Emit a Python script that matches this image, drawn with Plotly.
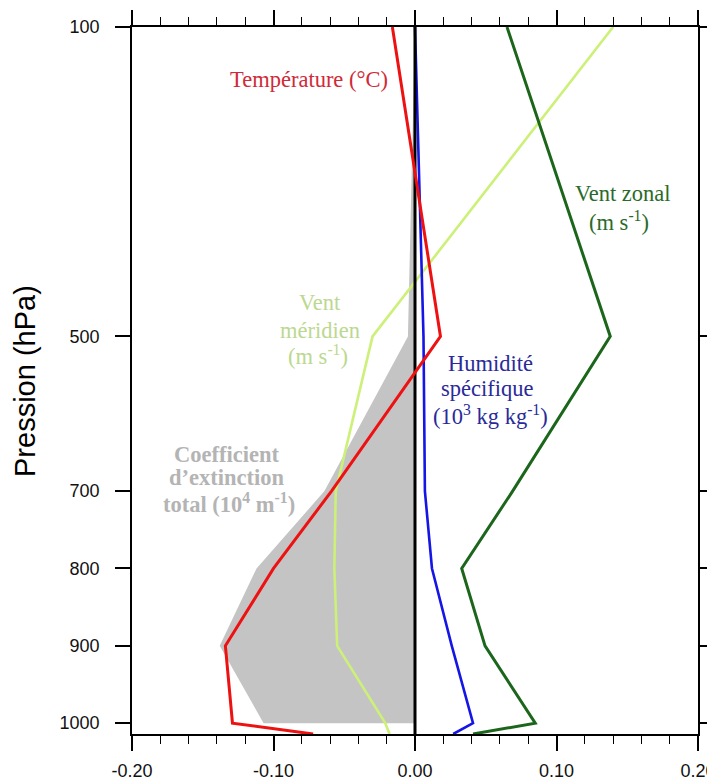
import plotly.graph_objects as go

# ---------------- data ----------------
levels = [100, 500, 700, 800, 900, 1000, 1014]          # hPa (1014 = surface)
temperature = [-0.016, 0.018, -0.059, -0.100, -0.134, -0.129, -0.072]
vent_zonal = [0.065, 0.138, 0.069, 0.033, 0.0495, 0.085, 0.041]
vent_meridien = [0.140, -0.030, -0.056, -0.057, -0.055, -0.021, -0.018]
humidite = [0.000, 0.006, 0.007, 0.012, 0.026, 0.041, 0.027]

ext_levels = [100, 500, 700, 800, 900, 1000]
extinction = [0.0, -0.005, -0.064, -0.112, -0.138, -0.107]

x_ticks = [-0.2, -0.1, 0.0, 0.1, 0.2]
x_ticklabels = ["-0.20", "-0.10", "0.00", "0.10", "0.20"]
y_ticks = [100, 500, 700, 800, 900, 1000]
y_ticklabels = ["100", "500", "700", "800", "900", "1000"]

X_RANGE = [-0.2, 0.2]
Y_TOP, Y_BOTTOM = 100, 1014

# page body has an 8px margin -> figure drawn at (8, 8)
W, H = 707, 774
L, T, R, B = 124, 19, 17, 48
PW, PH = W - L - R, H - T - B

# ---------------- figure ----------------
fig = go.Figure()

# extinction coefficient (grey area between 0 and the profile)
fig.add_trace(go.Scatter(x=[0.0] * len(ext_levels), y=ext_levels, mode="lines",
                         line=dict(width=0, color="#c4c4c4"), hoverinfo="skip",
                         showlegend=False))
fig.add_trace(go.Scatter(x=extinction, y=ext_levels, mode="lines", fill="tonextx",
                         fillcolor="#c4c4c4", line=dict(width=0, color="#c4c4c4"),
                         showlegend=False))

fig.add_trace(go.Scatter(x=vent_meridien, y=levels, mode="lines",
                         line=dict(color="#ccf078", width=2.6), showlegend=False))
fig.add_trace(go.Scatter(x=vent_zonal, y=levels, mode="lines",
                         line=dict(color="#1c661c", width=3), showlegend=False))
fig.add_trace(go.Scatter(x=humidite, y=levels, mode="lines",
                         line=dict(color="#1515e6", width=2.6), showlegend=False))
# zero line
fig.add_trace(go.Scatter(x=[0.0, 0.0], y=[Y_TOP, Y_BOTTOM], mode="lines",
                         line=dict(color="black", width=3), showlegend=False))
fig.add_trace(go.Scatter(x=temperature, y=levels, mode="lines",
                         line=dict(color="#ee1111", width=3), showlegend=False))

serif = "Liberation Serif"
ann_size = 22.5


def label(text, x, y, color):
    fig.add_annotation(text=text, x=x, y=y, xref="x", yref="y", showarrow=False,
                       xanchor="center", yanchor="middle",
                       font=dict(family=serif, size=ann_size, color=color))


label("Température (°C)", -0.0749, 168.5, "#d02a38")
label("Vent zonal", 0.1470, 314.7, "#2a6a2a")
label("(m s<sup>-1</sup>)", 0.1442, 350.9, "#2a6a2a")
label("Vent", -0.0671, 455.6, "#bcd890")
label("méridien", -0.0671, 491.8, "#bcd890")
label("(m s<sup>-1</sup>)", -0.0686, 524.2, "#bcd890")
label("Humidité", 0.0530, 534.5, "#2a2a9a")
label("spécifique", 0.0509, 566.8, "#2a2a9a")
label("(10<sup>3</sup> kg kg<sup>-1</sup>)", 0.0530, 601.7, "#2a2a9a")
label("<b>Coefficient</b>", -0.1329, 652.2, "#b4b4b4")
label("<b>d’extinction</b>", -0.1329, 681.9, "#b4b4b4")
label("<b>total (10<sup>4</sup> m<sup>-1</sup>)</b>", -0.1311, 715.5, "#b4b4b4")

fig.add_annotation(text="Pression (hPa)", x=(17 - L) / PW, y=(H - B - (381 - 8)) / PH,
                   xref="paper", yref="paper",
                   showarrow=False, textangle=-90, xanchor="center", yanchor="middle",
                   font=dict(family="Liberation Sans", size=29, color="black"))

tickfont = dict(family="Liberation Sans", size=18, color="#111")

fig.update_layout(
    width=W, height=H,
    margin=dict(l=L, r=R, t=T, b=B, autoexpand=False),
    paper_bgcolor="white", plot_bgcolor="white",
    showlegend=False,
    xaxis=dict(range=X_RANGE, tickmode="array", tickvals=x_ticks, ticktext=x_ticklabels,
               ticks="outside", ticklen=15, tickwidth=1.6, tickcolor="black",
               minor=dict(tick0=-0.2, dtick=0.02, ticks="outside", ticklen=8,
                          tickwidth=1.2, tickcolor="black", showgrid=False),
               showline=True, linecolor="black", linewidth=1.6, mirror="allticks",
               showgrid=False, zeroline=False, tickfont=tickfont,
               ticklabelstandoff=5, ticklabeloverflow="allow", automargin=False),
    yaxis=dict(range=[Y_BOTTOM, Y_TOP], tickmode="array", tickvals=y_ticks,
               ticktext=y_ticklabels,
               ticks="outside", ticklen=15, tickwidth=1.6, tickcolor="black",
               showline=True, linecolor="black", linewidth=1.6, mirror="allticks",
               showgrid=False, zeroline=False, tickfont=tickfont,
               ticklabelstandoff=12, ticklabeloverflow="allow", automargin=False),
)

fig.write_html("out.html")
